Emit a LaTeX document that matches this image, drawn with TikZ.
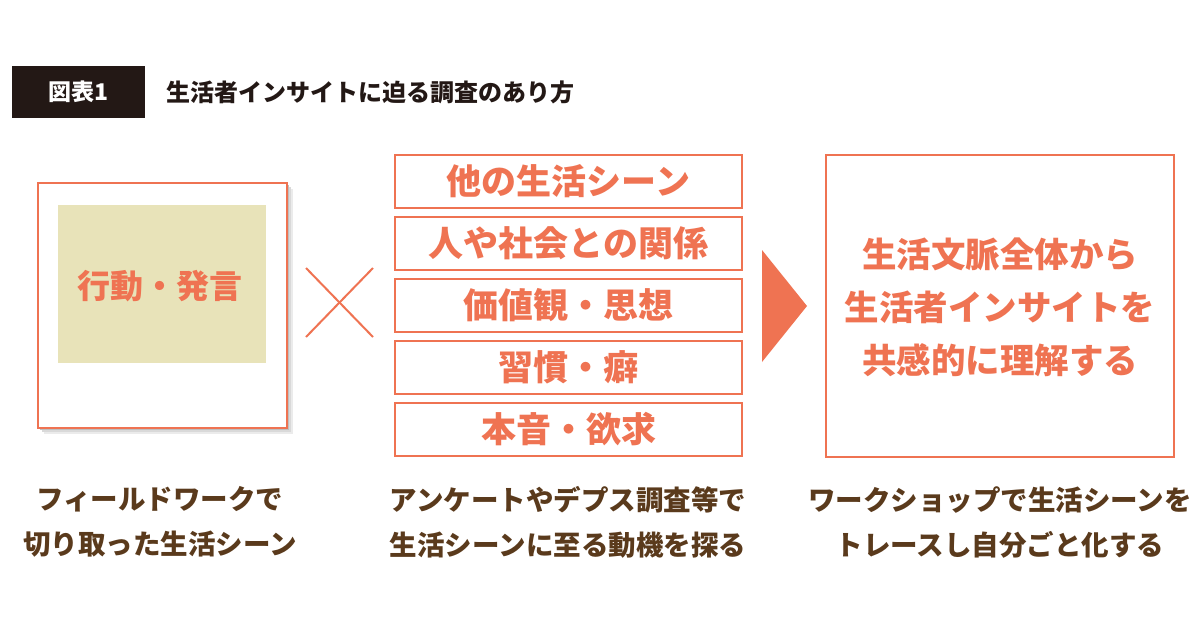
\documentclass[tikz,border=0pt]{standalone}
\usepackage{fontspec}
\setmainfont{Noto Sans CJK JP}
\definecolor{org}{HTML}{EF7352}
\definecolor{brn}{HTML}{5A3A1C}
\definecolor{beige}{HTML}{E8E3B9}
\definecolor{ttl}{HTML}{231815}
\begin{document}
\begin{tikzpicture}[x=1pt,y=-1pt,
  obox/.style={draw=org,line width=1.6pt,fill=white},
  otext/.style={text=org,font=\fontsize{35}{40}\selectfont\bfseries},
  captext/.style={text=brn,font=\fontsize{27.5}{45}\selectfont\bfseries,align=center}]
\useasboundingbox (0,0) rectangle (1200,630);
\fill[white] (0,0) rectangle (1200,630);
% header
\node[fill=ttl,minimum width=133,minimum height=52,text=white,font=\fontsize{23}{26}\selectfont\bfseries] (hd) at (78.5,92) {図表1};
\node[anchor=west,text=ttl,font=\fontsize{24}{28}\selectfont\bfseries] (title) at (163,92) {生活者インサイトに迫る調査のあり方};
% polaroid
\foreach \o/\c in {6/black!8,4/black!15,2/black!25}{\fill[\c] (38+\o,183+\o) rectangle (287+\o,428+\o);}
\node[obox,minimum width=249,minimum height=245] (pol) at (162.5,305.5) {};
\node[fill=beige,minimum width=208,minimum height=158] (img) at (162,284) {};
\node[otext,font=\fontsize{33}{36}\selectfont\bfseries] (act) at (160,286) {行動・発言};
% cross
\coordinate (c1) at (306,268); \coordinate (c2) at (373,337);
\coordinate (c3) at (373,268); \coordinate (c4) at (306,337);
\draw[org,line width=2pt] (c1) -- (c2); \draw[org,line width=2pt] (c3) -- (c4);
% stacked
\foreach \y/\t/\n in {181.5/他の生活シーン/s1,243.5/人や社会との関係/s2,305.5/価値観・思想/s3,367.5/習慣・癖/s4,429.5/本音・欲求/s5}{
  \node[obox,minimum width=347,minimum height=53] (\n) at (568.5,\y) {};
  \node[otext] at (\n) {\t};}
% arrow
\fill[org] (762,250) -- (807,306) -- (762,362) -- cycle;
% right box
\node[obox,minimum width=348,minimum height=302] (rb) at (1000,306) {};
\node[otext,align=center,font=\fontsize{34.5}{53}\selectfont\bfseries] (rt) at (1000,307) {生活文脈全体から\\生活者インサイトを\\共感的に理解する};
% captions
\node[captext] (k1) at (160,522) {フィールドワークで\\切り取った生活シーン};
\node[captext] (k2) at (568,522) {アンケートやデプス調査等で\\生活シーンに至る動機を探る};
\node[captext] (k3) at (1000,522) {ワークショップで生活シーンを\\トレースし自分ごと化する};
\end{tikzpicture}
\end{document}
